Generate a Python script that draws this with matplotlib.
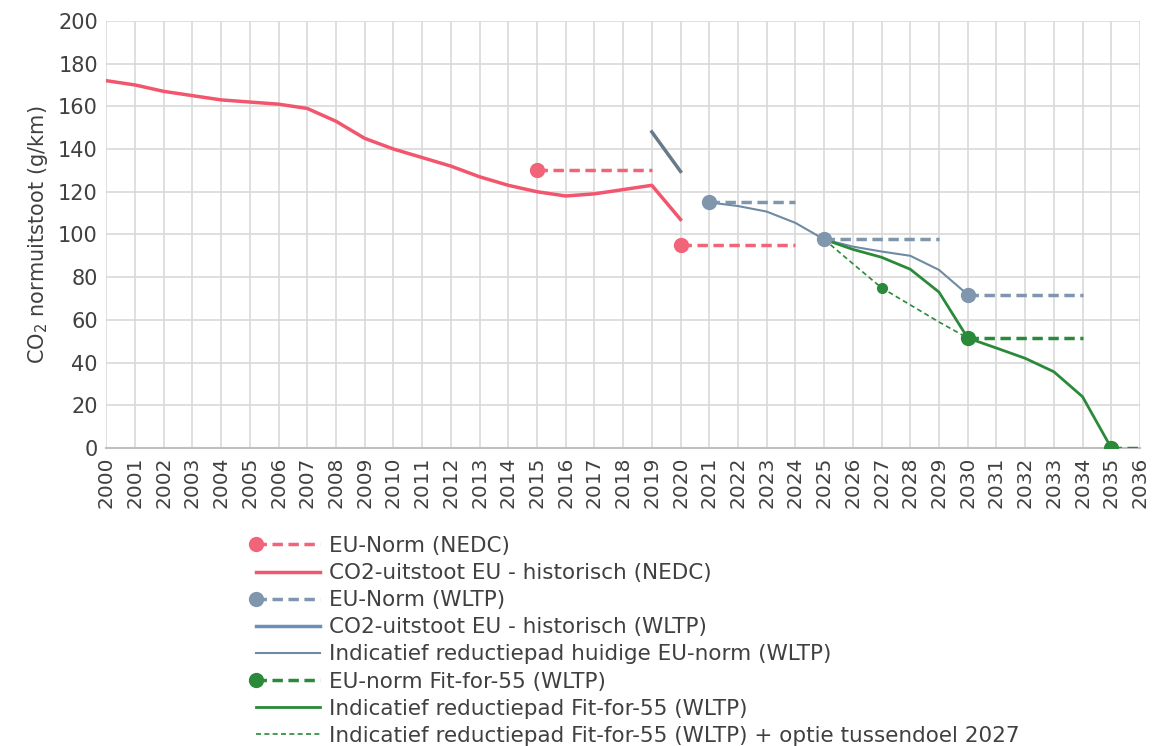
import numpy as np
import matplotlib.pyplot as plt
from matplotlib.lines import Line2D
from matplotlib.legend_handler import HandlerLine2D

plt.rcParams["font.family"] = ["DejaVu Sans"]

# historische CO2-uitstoot (NEDC)
hist_nedc_years = list(range(2000, 2021))
hist_nedc_vals = [172, 170, 167, 165, 163, 162, 161, 159, 153, 145, 140,
                  136, 132, 127, 123, 120, 118, 119, 121, 123, 107]

# historische CO2-uitstoot (WLTP)
hist_wltp_years = [2019, 2020]
hist_wltp_vals = [148, 129.5]

# EU-normen: startjaar, eindjaar, waarde
nedc_norm_start = [2015, 2020]
nedc_norm_end = [2019, 2024]
nedc_norm_vals = [130, 95]

wltp_norm_start = [2021, 2025, 2030]
wltp_norm_end = [2024, 2029, 2034]
wltp_norm_vals = [115, 97.7, 71.8]

fit55_norm_start = [2030, 2035]
fit55_norm_end = [2034, 2036]
fit55_norm_vals = [51.5, 0]
fit55_tussendoel_year = 2027
fit55_tussendoel_val = 75

# indicatieve reductiepaden
pad_huidig_years = list(range(2021, 2031))
pad_huidig_vals = [115, 113.3, 110.7, 105.4, 97.7, 94.3, 92, 90, 83.4, 71.8]

pad_fit55_years = list(range(2025, 2036))
pad_fit55_vals = [97.7, 93, 89.3, 83.7, 73, 51.5, 46.8, 42, 35.7, 24, 0]

pad_optie_years = list(range(2025, 2031))
pad_optie_vals = [97.7, 86.3, 75, 67, 59, 51.5]

red = "#f2566e"
red_norm = "#f26479"
blue_norm = "#7f96ad"
blue_hist = "#6b8fb8"
slate = "#687a88"
blue_pad = "#6f8aa3"
green = "#2a8a3a"
txt = "#404040"


class FirstMarker(HandlerLine2D):
    # marker alleen aan het begin van het legendasymbool (zoals Excel)
    def create_artists(self, legend, orig_handle, xdescent, ydescent,
                       width, height, fontsize, trans):
        artists = super().create_artists(legend, orig_handle, xdescent, ydescent,
                                         width, height, fontsize, trans)
        for a in artists:
            if a.get_marker() not in (None, "None", "", " "):
                a.set_markevery([0])
        return artists


fig = plt.figure(figsize=(11.55, 7.46), dpi=100)
ax = fig.add_axes([0.092, 0.3995, 0.895, 0.5725])

def norm_series(starts, ends, vals, color, label, ms=10):
    for i, (s, e, v) in enumerate(zip(starts, ends, vals)):
        ax.plot([s, e], [v, v], color=color, lw=2.5, ls=(0, (3, 1.6)),
                marker="o", ms=ms, markevery=[0], zorder=4,
                label=label if i == 0 else None)

norm_series(nedc_norm_start, nedc_norm_end, nedc_norm_vals, red_norm, "EU-Norm (NEDC)")
ax.plot(hist_nedc_years, hist_nedc_vals, color=red, lw=2.5,
        label="CO2-uitstoot EU - historisch (NEDC)", zorder=3)
norm_series(wltp_norm_start, wltp_norm_end, wltp_norm_vals, blue_norm, "EU-Norm (WLTP)")
ax.plot(hist_wltp_years, hist_wltp_vals, color=slate, lw=2.5, zorder=3)
ax.plot([], [], color=blue_hist, lw=2.5, label="CO2-uitstoot EU - historisch (WLTP)")
ax.plot(pad_huidig_years, pad_huidig_vals, color=blue_pad, lw=1.5,
        label="Indicatief reductiepad huidige EU-norm (WLTP)", zorder=3)
norm_series(fit55_norm_start, fit55_norm_end, fit55_norm_vals, green,
            "EU-norm Fit-for-55 (WLTP)")
ax.plot(pad_fit55_years, pad_fit55_vals, color=green, lw=2,
        label="Indicatief reductiepad Fit-for-55 (WLTP)", zorder=3)
ax.plot(pad_optie_years, pad_optie_vals, color=green, lw=1.2, ls=(0, (3, 2)),
        label="Indicatief reductiepad Fit-for-55 (WLTP) + optie tussendoel 2027", zorder=3)
ax.plot([fit55_tussendoel_year], [fit55_tussendoel_val], "o", color=green, ms=7, zorder=5)

ax.set_xlim(2000, 2036)
ax.set_ylim(0, 200)
ax.set_xticks(range(2000, 2037))
ax.set_xticklabels([str(y) for y in range(2000, 2037)], rotation=90)
ax.set_yticks(range(0, 201, 20))
ax.tick_params(axis="both", length=0, labelsize=15, colors=txt)
ax.tick_params(axis="x", pad=6, labelsize=14.5)
ax.tick_params(axis="y", pad=6)
ax.grid(True, color="#d9d9d9", lw=1.2)
ax.set_axisbelow(True)
for side in ["left", "right", "top"]:
    ax.spines[side].set_visible(False)
ax.spines["bottom"].set_color("#bfbfbf")
ax.spines["bottom"].set_linewidth(1.5)
ax.set_ylabel("CO$_2$ normuitstoot (g/km)", fontsize=15, color=txt, labelpad=6)

fig.legend(loc="upper left", bbox_to_anchor=(0.214, 0.293), frameon=False,
           fontsize=15.5, numpoints=2, handlelength=3.0, handletextpad=0.4,
           labelspacing=0.33, borderaxespad=0, labelcolor=txt,
           handler_map={Line2D: FirstMarker(numpoints=2, marker_pad=0)})

fig.savefig("out.png", dpi=100)
